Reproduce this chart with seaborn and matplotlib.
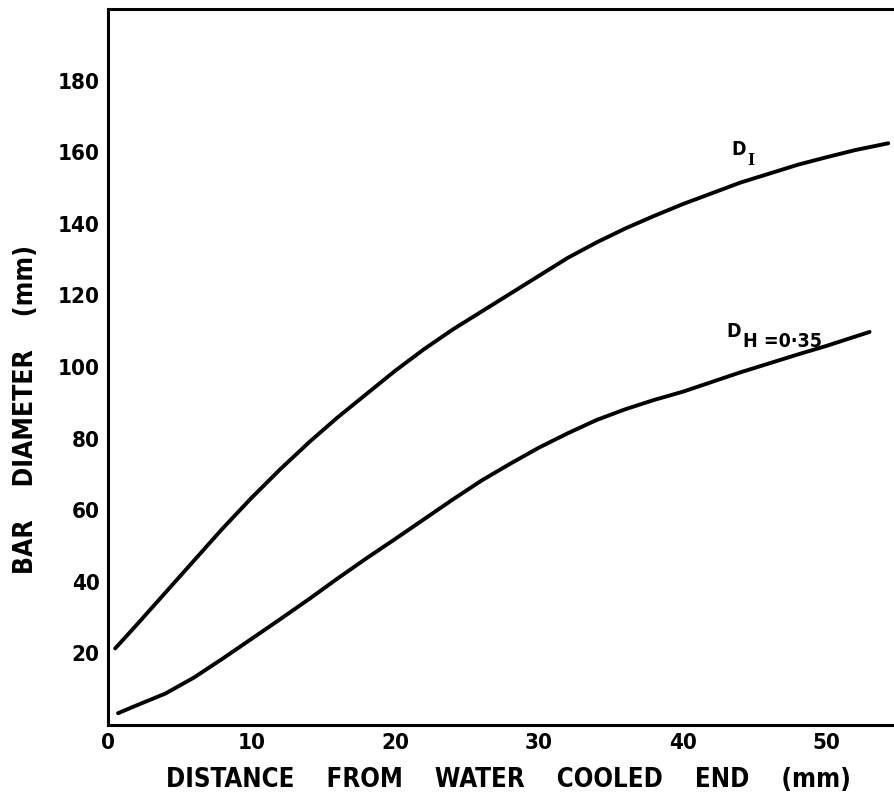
import matplotlib
matplotlib.use('Agg')
import matplotlib.pyplot as plt
import pandas as pd
import seaborn as sns

# values
dist_i = [0.5, 2, 4, 6, 8, 10, 12, 14, 16, 18, 20, 22, 24, 26, 28, 30,
          32, 34, 36, 38, 40, 42, 44, 46, 48, 50, 52, 54.3]
diam_i = [21.4, 28.0, 37.0, 46.0, 55.0, 63.5, 71.5, 79.0, 86.0, 92.5, 99.0,
          105.0, 110.5, 115.5, 120.5, 125.5, 130.5, 134.8, 138.7, 142.2,
          145.5, 148.5, 151.5, 154.0, 156.5, 158.6, 160.6, 162.5]

dist_h = [0.7, 2, 4, 6, 8, 10, 12, 14, 16, 18, 20, 22, 24, 26, 28, 30,
          32, 34, 36, 38, 40, 42, 44, 46, 48, 50, 53]
diam_h = [3.3, 5.5, 8.8, 13.3, 18.6, 24.1, 29.6, 35.2, 41.0, 46.6, 52.0,
          57.5, 63.0, 68.3, 73.0, 77.5, 81.5, 85.2, 88.2, 90.8, 93.1, 95.8,
          98.5, 101.0, 103.5, 105.9, 109.8]

x_ticks = [0, 10, 20, 30, 40, 50]
y_ticks = [20, 40, 60, 80, 100, 120, 140, 160, 180]

sns.set_style('white')
plt.rcParams['font.family'] = ['DejaVu Sans']
plt.rcParams['font.stretch'] = 'condensed'
plt.rcParams['font.weight'] = 'bold'
plt.rcParams['text.color'] = 'black'

df = pd.concat([
    pd.DataFrame({'dist': dist_i, 'diam': diam_i, 'curve': 'I'}),
    pd.DataFrame({'dist': dist_h, 'diam': diam_h, 'curve': 'H'}),
])

fig = plt.figure(figsize=(8.94, 7.99), dpi=100)
ax = fig.add_axes([0.1208, 0.0926, 0.8792, 0.8961])

for name, part in df.groupby('curve'):
    sns.lineplot(data=part, x='dist', y='diam', ax=ax, color='black',
                 linewidth=2.8, estimator=None, sort=False, legend=False)

ax.set_xlim(0, 54.7)
ax.set_ylim(0, 200)
ax.set_xticks(x_ticks)
ax.set_yticks(y_ticks)
ax.tick_params(direction='in', length=8.5, width=1.6, colors='black',
               labelsize=16, pad=6)
for lab in ax.get_xticklabels() + ax.get_yticklabels():
    lab.set_fontweight('bold')

for side in ['left', 'top', 'bottom']:
    ax.spines[side].set_visible(True)
    ax.spines[side].set_linewidth(2.2)
    ax.spines[side].set_color('black')
ax.spines['right'].set_visible(False)

ax.set_xlabel('DISTANCE    FROM    WATER    COOLED    END    (mm)',
              fontsize=18.5, fontweight='bold', color='black')
ax.xaxis.set_label_coords(0.51, -0.058)
ax.set_ylabel('BAR    DIAMETER    (mm)', fontsize=19, fontweight='bold',
              color='black')
ax.yaxis.set_label_coords(-0.088, 0.44)

# curve labels
ax.text(43.4, 159.1, 'D', fontsize=14, fontweight='bold', va='baseline')
ax.text(44.5, 156.3, 'I', fontsize=12, fontweight='bold', va='baseline',
        family='DejaVu Serif')
ax.text(43.05, 108.3, 'D', fontsize=14, fontweight='bold', va='baseline')
ax.text(44.2, 105.5, 'H =0\u00b735', fontsize=14, fontweight='bold',
        va='baseline')

fig.savefig('out.png', dpi=100)
